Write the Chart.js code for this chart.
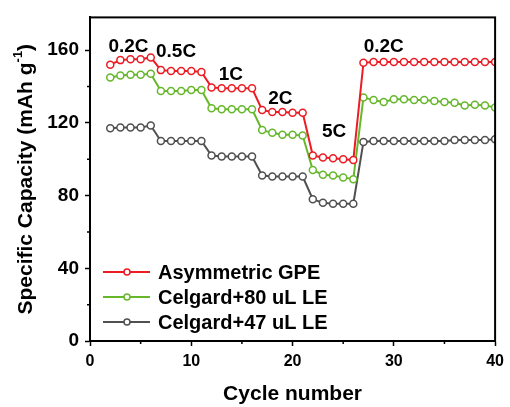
<!DOCTYPE html>
<html>
<head>
<meta charset="utf-8">
<script src="https://cdn.jsdelivr.net/npm/chart.js@4"></script>
<style>
  html, body { margin: 0; padding: 0; background: #fff; }
</style>
</head>
<body>
<canvas id="rateChart" width="510" height="407"></canvas>
<script>
// cycle numbers on the x axis
const cycles = [2, 3, 4, 5, 6, 7, 8, 9, 10, 11, 12, 13, 14, 15, 16, 17, 18, 19, 20, 21,
  22, 23, 24, 25, 26, 27, 28, 29, 30, 31, 32, 33, 34, 35, 36, 37, 38, 39, 40];

const asymGPE = [152, 154.5, 155, 155, 156,
  149, 148.5, 148.5, 148.5, 148,
  139.5, 139, 139, 139, 139,
  127, 126, 126, 125.5, 125.5,
  102, 101, 100.5, 100, 99.5,
  153, 153.5, 153.5, 153.5, 153.5, 153.5, 153.5, 153.5, 153.5, 153.5, 153.5, 153.5, 153.5, 153.5];

const celgard80 = [145, 146, 146.5, 146.5, 147,
  137.5, 137.5, 137.5, 138, 138,
  128, 127.5, 127.5, 127.5, 127.5,
  116, 114.5, 113.5, 113.5, 113,
  94, 91.5, 91, 90, 89,
  134, 132.5, 131.5, 133, 133, 132.5, 132.5, 132, 131.5, 131, 129.5, 130, 129.5, 128.5];

const celgard47 = [117, 117.5, 117.5, 117.5, 118.5,
  110, 110, 110, 110, 110,
  102, 101.5, 101.5, 101.5, 101.5,
  91, 90.5, 90.5, 90.5, 90.5,
  78, 76, 75.5, 75.5, 75.5,
  109.5, 110, 110, 110, 110, 110, 110, 110, 110, 110.5, 110.5, 110.5, 110.5, 111];

const seriesNames = ['Asymmetric GPE', 'Celgard+80 uL LE', 'Celgard+47 uL LE'];

// C-rate annotations, anchored in data units [cycle, capacity]
const rateNames = ['0.2C', '0.5C', '1C', '2C', '5C', '0.2C'];
const rateAt = [[3.8, 162], [8.5, 159], [13.9, 146.5], [18.8, 133], [24.1, 115], [29, 162]];

const xTicks = [0, 10, 20, 30, 40];
const yTicks = [0, 40, 80, 120, 160];

const FONT = "'Liberation Sans', Arial, sans-serif";
const colors = ['#ec1c24', '#66b82a', '#505050'];

function toPoints(vals) {
  return cycles.map((c, i) => ({ x: c, y: vals[i] }));
}

const datasets = [asymGPE, celgard80, celgard47].map((vals, i) => ({
  label: seriesNames[i],
  data: toPoints(vals),
  borderColor: colors[i],
  backgroundColor: '#fff',
  borderWidth: 2,
  pointRadius: 3.5,
  pointBorderWidth: 1.5,
  pointBackgroundColor: '#fff',
  pointBorderColor: colors[i],
  tension: 0
}));

const extras = {
  id: 'extras',
  afterDraw(chart) {
    const { ctx, chartArea: a, scales: { x, y } } = chart;
    ctx.save();

    // frame
    ctx.strokeStyle = '#000';
    ctx.lineWidth = 2;
    ctx.strokeRect(a.left, a.top, a.right - a.left, a.bottom - a.top);

    // minor ticks
    ctx.lineWidth = 1.5;
    ctx.beginPath();
    [5, 15, 25, 35].forEach(v => {
      const px = x.getPixelForValue(v);
      ctx.moveTo(px, a.bottom);
      ctx.lineTo(px, a.bottom + 3);
    });
    [20, 60, 100, 140].forEach(v => {
      const py = y.getPixelForValue(v);
      ctx.moveTo(a.left, py);
      ctx.lineTo(a.left - 3, py);
    });
    ctx.stroke();

    // rate labels
    ctx.fillStyle = '#000';
    ctx.font = 'bold 19px ' + FONT;
    ctx.textAlign = 'center';
    ctx.textBaseline = 'middle';
    rateNames.forEach((t, i) => {
      ctx.fillText(t, x.getPixelForValue(rateAt[i][0]), y.getPixelForValue(rateAt[i][1]));
    });

    // legend
    ctx.textAlign = 'left';
    ctx.font = 'bold 20px ' + FONT;
    const rows = [69, 44, 19];
    chart.data.datasets.forEach((ds, i) => {
      const ry = a.bottom - rows[i];
      ctx.strokeStyle = ds.borderColor;
      ctx.lineWidth = 2;
      ctx.beginPath();
      ctx.moveTo(a.left + 13, ry);
      ctx.lineTo(a.left + 60, ry);
      ctx.stroke();
      ctx.beginPath();
      ctx.arc(a.left + 37, ry, 3, 0, Math.PI * 2);
      ctx.fillStyle = '#fff';
      ctx.fill();
      ctx.lineWidth = 1.5;
      ctx.stroke();
      ctx.fillStyle = '#000';
      ctx.fillText(ds.label, a.left + 68, ry + 1);
    });

    // y title with superscript
    ctx.translate(26, (a.top + a.bottom) / 2);
    ctx.rotate(-Math.PI / 2);
    const big = 'bold 21px ' + FONT;
    const small = 'bold 13px ' + FONT;
    const parts = [['Specific Capacity (mAh g', big, 0], ['-1', small, -8], [')', big, 0]];
    let total = 0;
    parts.forEach(p => { ctx.font = p[1]; total += ctx.measureText(p[0]).width; });
    let cx = -total / 2;
    ctx.textAlign = 'left';
    parts.forEach(p => {
      ctx.font = p[1];
      ctx.fillText(p[0], cx, p[2]);
      cx += ctx.measureText(p[0]).width;
    });
    ctx.restore();
  }
};

new Chart(document.getElementById('rateChart'), {
  type: 'line',
  data: { datasets },
  options: {
    responsive: false,
    animation: false,
    layout: { padding: { top: 15, right: 14, left: 0, bottom: 0 } },
    plugins: { legend: { display: false }, tooltip: { enabled: false } },
    scales: {
      x: {
        type: 'linear',
        min: 0, max: 40,
        afterFit: s => { s.height = 66; },
        afterBuildTicks: s => { s.ticks = xTicks.map(v => ({ value: v })); },
        ticks: { color: '#000', padding: 6, font: { family: FONT, size: 16, weight: 'bold' } },
        grid: { drawOnChartArea: false, color: '#000', tickLength: 5, tickWidth: 1.5 },
        border: { display: true, color: '#000', width: 2 },
        title: {
          display: true, text: 'Cycle number', color: '#000',
          padding: { top: 0, bottom: 0 },
          font: { family: FONT, size: 21, weight: 'bold' }
        }
      },
      y: {
        min: 0, max: 178,
        afterFit: s => { s.width = 90; },
        afterBuildTicks: s => { s.ticks = yTicks.map(v => ({ value: v })); },
        ticks: { color: '#000', padding: 6, font: { family: FONT, size: 19, weight: 'bold' } },
        grid: { drawOnChartArea: false, color: '#000', tickLength: 5, tickWidth: 1.5 },
        border: { display: true, color: '#000', width: 2 }
      }
    }
  },
  plugins: [extras]
});
</script>
</body>
</html>
